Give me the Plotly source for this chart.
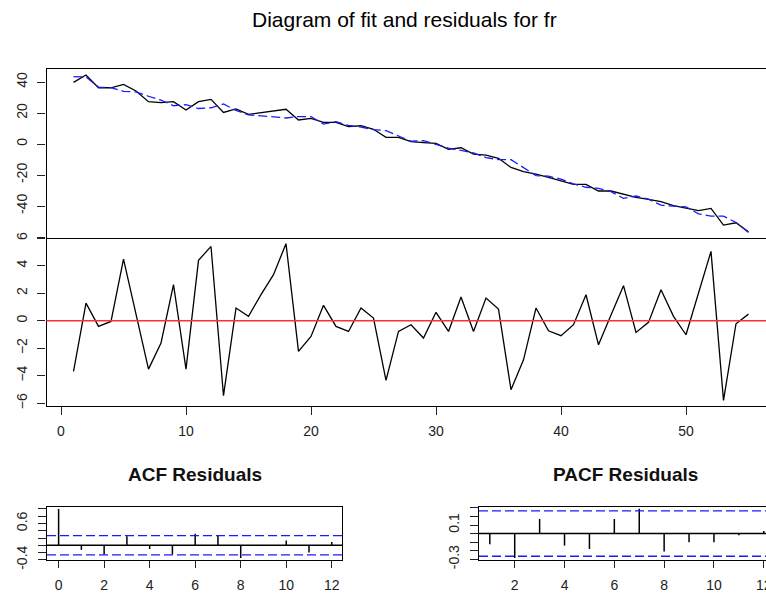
import plotly.graph_objects as go

# ---------------- data ----------------
t = list(range(1, 56))
actual = [39.8, 44.5, 36.3, 36.3, 38.5, 34.2, 27.3, 26.7, 27.3, 21.9,
          27.3, 28.8, 20.4, 22.6, 19.1, 20.2, 20.9, 22.4, 15.5, 16.6,
          14.0, 14.0, 11.2, 11.8, 9.5, 4.3, 4.3, 1.5, 0.9, 0.4,
          -3.4, -2.4, -6.5, -7.1, -9.2, -15.1, -17.8, -19.4, -21.5, -23.7,
          -26.0, -26.0, -30.3, -30.3, -32.5, -34.4, -35.7, -37.2, -39.8, -41.5,
          -43.0, -41.5, -52.3, -50.8, -56.6]
fitted = [43.48, 43.22, 36.71, 36.35, 34.02, 33.65, 30.82, 28.32, 24.68, 25.42,
          22.91, 23.40, 25.85, 21.68, 18.78, 18.30, 17.55, 16.80, 17.73, 17.74,
          12.88, 14.41, 11.98, 10.88, 9.31, 8.64, 5.08, 1.79, 2.16, -0.21,
          -2.62, -4.12, -5.72, -8.75, -10.05, -10.08, -14.96, -20.32, -20.77, -22.61,
          -25.71, -27.89, -28.55, -30.71, -35.05, -33.55, -35.58, -39.45, -40.12, -40.48,
          -45.00, -46.54, -46.51, -50.58, -57.08]
resid = [-3.68, 1.28, -0.41, -0.05, 4.48, 0.55, -3.52, -1.62, 2.62, -3.52,
         4.39, 5.40, -5.45, 0.92, 0.32, 1.90, 3.35, 5.60, -2.23, -1.14,
         1.12, -0.41, -0.78, 0.92, 0.19, -4.34, -0.78, -0.29, -1.26, 0.61,
         -0.78, 1.72, -0.78, 1.65, 0.85, -5.02, -2.84, 0.92, -0.73, -1.09,
         -0.29, 1.89, -1.75, 0.41, 2.55, -0.85, -0.12, 2.25, 0.32, -1.02,
         2.00, 5.04, -5.79, -0.22, 0.48]

acf_lags = list(range(0, 13))
acf_vals = [1.0, -0.125, -0.25, 0.25, -0.10, -0.25, 0.32, 0.27, -0.35, 0.01, 0.13, -0.20, 0.09]
pacf_lags = list(range(1, 13))
pacf_vals = [-0.125, -0.285, 0.17, -0.14, -0.18, 0.17, 0.29, -0.21, -0.10, -0.10, -0.02, 0.03]
conf = 0.264

main_xticks = [0, 10, 20, 30, 40, 50]
acf_xticks = [0, 2, 4, 6, 8, 10, 12]
pacf_xticks = [2, 4, 6, 8, 10, 12]

title_main = "Diagram of fit and residuals for fr"
title_acf = "ACF Residuals"
title_pacf = "PACF Residuals"

# ---------------- helpers ----------------
W, H = 766, 594
def px(x):
    return x / W
def py(y):
    return 1 - y / H

def spikes(lags, vals):
    xs, ys = [], []
    for l, v in zip(lags, vals):
        xs += [l, l, None]
        ys += [0, v, None]
    return xs, ys

FONT = "Liberation Sans, Arial, sans-serif"
LW = 1.3
TICKFONT = dict(family=FONT, size=14, color="#222")
BLUE = "#1a1aff"
DASH = "9px,4px"

fig = go.Figure()

fig.add_trace(go.Scatter(x=t, y=actual, mode="lines", line=dict(color="black", width=LW),
                         xaxis="x", yaxis="y", showlegend=False))
fig.add_trace(go.Scatter(x=t, y=fitted, mode="lines",
                         line=dict(color=BLUE, width=LW, dash=DASH),
                         xaxis="x", yaxis="y", showlegend=False))
fig.add_trace(go.Scatter(x=t, y=resid, mode="lines", line=dict(color="black", width=LW),
                         xaxis="x2", yaxis="y2", showlegend=False))
ax, ay = spikes(acf_lags, acf_vals)
fig.add_trace(go.Scatter(x=ax, y=ay, mode="lines", line=dict(color="black", width=1.5),
                         xaxis="x3", yaxis="y3", showlegend=False, connectgaps=False))
bx, by = spikes(pacf_lags, pacf_vals)
fig.add_trace(go.Scatter(x=bx, y=by, mode="lines", line=dict(color="black", width=1.5),
                         xaxis="x4", yaxis="y4", showlegend=False, connectgaps=False))

common_axis = dict(showgrid=False, zeroline=False, showline=True, linecolor="black",
                   linewidth=LW, ticks="outside", ticklen=8, tickwidth=1.2,
                   tickcolor="#222", tickfont=TICKFONT, automargin=False)

xdom_main = [px(46.5), 1.0]
layout = dict(
    width=W, height=H, margin=dict(l=0, r=0, t=0, b=0, autoexpand=False),
    paper_bgcolor="white", plot_bgcolor="white",
    xaxis=dict(common_axis, domain=xdom_main, range=[-1.16, 56.4], anchor="y",
               showticklabels=False, ticks="", mirror=True),
    yaxis=dict(common_axis, domain=[py(237.5), py(69)], range=[-60.3, 48.4], anchor="x",
               tickvals=[-60, -40, -20, 0, 20, 40], ticktext=["", "-40", "-20", "0", "20", "40"],
               tickangle=-90, ticklabelstandoff=5),
    xaxis2=dict(common_axis, domain=xdom_main, range=[-1.16, 56.4], anchor="y2",
                tickvals=main_xticks, mirror=False, ticklabelstandoff=4),
    yaxis2=dict(common_axis, domain=[py(406), py(237.5)], range=[-6.2, 6.05], anchor="x2",
                tickvals=[-6, -4, -2, 0, 2, 4, 6], tickangle=-90, ticklabelstandoff=5),
    xaxis3=dict(common_axis, domain=[px(47), px(342)], range=[-0.51, 12.45], anchor="y3",
                tickvals=acf_xticks, mirror=True, ticklen=7, ticklabelstandoff=5),
    yaxis3=dict(common_axis, domain=[py(560), py(507)], range=[-0.404, 1.054], anchor="x3",
                tickvals=[-0.4, -0.2, 0, 0.2, 0.4, 0.6, 0.8, 1.0],
                ticktext=["-0.4", "", "", "", "", "0.6", "", ""],
                tickangle=-90, mirror=True, ticklabelstandoff=5),
    xaxis4=dict(common_axis, domain=[px(479), 1.0], range=[0.566, 12.09], anchor="y4",
                tickvals=pacf_xticks,
                ticktext=[str(v) for v in pacf_xticks[:-1]] + [""],
                mirror=True, ticklen=7, ticklabelstandoff=5),
    yaxis4=dict(common_axis, domain=[py(560), py(507)], range=[-0.308, 0.31], anchor="x4",
                tickvals=[-0.3, -0.2, -0.1, 0, 0.1, 0.2, 0.3],
                ticktext=["-0.3", "", "", "", "0.1", "", ""],
                tickangle=-90, ticklabelstandoff=5),
    shapes=[
        dict(type="line", xref="x2 domain", yref="y2", x0=0, x1=1, y0=0, y1=0,
             line=dict(color="#ff3030", width=1.5)),
        dict(type="line", xref="x3 domain", yref="y3", x0=0, x1=1, y0=0, y1=0,
             line=dict(color="black", width=1.5)),
        dict(type="line", xref="x3 domain", yref="y3", x0=0, x1=1, y0=conf, y1=conf,
             line=dict(color=BLUE, width=1.3, dash=DASH)),
        dict(type="line", xref="x3 domain", yref="y3", x0=0, x1=1, y0=-conf, y1=-conf,
             line=dict(color=BLUE, width=1.3, dash=DASH)),
        dict(type="line", xref="x4 domain", yref="y4", x0=0, x1=1, y0=0, y1=0,
             line=dict(color="black", width=1.5)),
        dict(type="line", xref="x4 domain", yref="y4", x0=0, x1=1, y0=conf, y1=conf,
             line=dict(color=BLUE, width=1.3, dash=DASH)),
        dict(type="line", xref="x4 domain", yref="y4", x0=0, x1=1, y0=-conf, y1=-conf,
             line=dict(color=BLUE, width=1.3, dash=DASH)),
    ],
    annotations=[
        dict(text=title_main, xref="paper", yref="paper", x=px(404), y=py(19),
             xanchor="center", yanchor="middle", showarrow=False,
             font=dict(family=FONT, size=21, color="black")),
        dict(text="<b>" + title_acf + "</b>", xref="paper", yref="paper", x=px(194.5), y=py(474),
             xanchor="center", yanchor="middle", showarrow=False,
             font=dict(family=FONT, size=19, color="#111")),
        dict(text="<b>" + title_pacf + "</b>", xref="paper", yref="paper", x=px(625), y=py(474),
             xanchor="center", yanchor="middle", showarrow=False,
             font=dict(family=FONT, size=19, color="#111")),
        # last PACF tick label, running past the page edge as in the reference
        dict(text=str(pacf_xticks[-1]), xref="x4", yref="paper", x=pacf_xticks[-1], y=py(585),
             xanchor="center", yanchor="middle", showarrow=False,
             font=TICKFONT),
    ],
)
fig.update_layout(layout)
fig.write_html("out.html")
